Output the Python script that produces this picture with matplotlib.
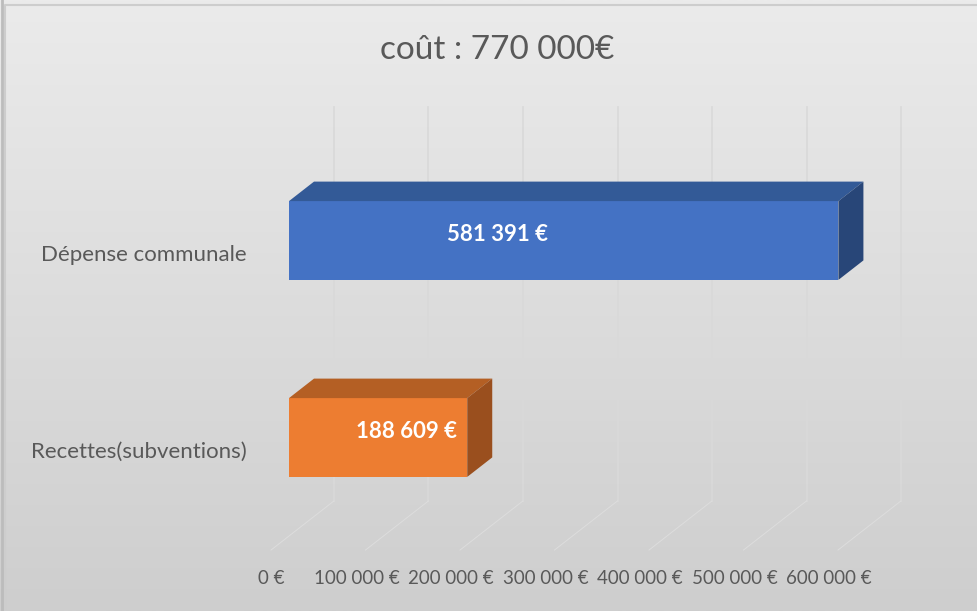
import numpy as np
import matplotlib.pyplot as plt
from matplotlib.patches import Polygon
from matplotlib.colors import LinearSegmentedColormap
from matplotlib.transforms import IdentityTransform

# data
categories = ["Recettes(subventions)", "Dépense communale"]
values = [188609, 581391]
value_labels = ["188 609 €", "581 391 €"]
ticks = [0, 100000, 200000, 300000, 400000, 500000, 600000]
tick_labels = ["0 €", "100 000 €", "200 000 €", "300 000 €",
               "400 000 €", "500 000 €", "600 000 €"]
title = "coût : 770 000€"

# styles
front_colors = ["#ED7D31", "#4472C4"]
top_colors = ["#B45F24", "#335A97"]
side_colors = ["#9A4F1E", "#284678"]
label_x = [124000, 221000]   # where Excel put the data labels
plt.rcParams['font.family'] = ['Lato', 'DejaVu Sans']
txt_color = "#595959"

W, H = 978, 611
fig = plt.figure(figsize=(W / 100, H / 100), dpi=100)

# background gradient + frame
bg = fig.add_axes([0, 0, 1, 1], zorder=-1)
grad = np.linspace(0, 1, 256).reshape(-1, 1)
cmap = LinearSegmentedColormap.from_list("bg", ["#ebebeb", "#cecece"])
bg.imshow(grad, aspect="auto", cmap=cmap, extent=[0, W, H, 0])
bg.plot([5, 5, W], [H, 5, 5], color="#cdcdcd", lw=1.5)
bg.plot([1.5, 1.5], [0, H], color="#bcbcbc", lw=2)
bg.set_xlim(0, W)
bg.set_ylim(H, 0)
bg.axis("off")

# main axes = front plane of the bars
ax = fig.add_axes([289 / W, (H - 536) / H, 567 / W, 394 / H])
ax.set_xlim(0, 600000)
ax.set_ylim(-0.5, 1.5)
ax.axis("off")

DX, DY = 25, 19.5       # pixel shift from bar front to bar back
FLOOR_F, FLOOR_B = -0.72, 1.8


def proj(x, y, d):
    px, py = ax.transData.transform((x, y))
    return px + d * DX, py + d * DY


grid_c = "#d9d9d9"
for t in ticks:
    p0 = proj(t, -0.5, FLOOR_B)
    p1 = proj(t, 1.5, FLOOR_B)
    ax.plot([p0[0], p1[0]], [p0[1], p1[1]], color=grid_c, lw=1.2,
            transform=IdentityTransform(), clip_on=False, zorder=1)
    f0 = proj(t, -0.5, FLOOR_F)
    ax.plot([f0[0], p0[0]], [f0[1], p0[1]], color="#dddddd", lw=0.7,
            transform=IdentityTransform(), clip_on=False, zorder=1)

# bars
ypos = np.arange(len(values))
hh = 0.2
ax.barh(ypos, values, height=2 * hh, color=front_colors, zorder=3,
        edgecolor="none")
for i, v in enumerate(values):
    y = ypos[i]
    top = [proj(0, y + hh, 0), proj(v, y + hh, 0),
           proj(v, y + hh, 1), proj(0, y + hh, 1)]
    side = [proj(v, y - hh, 0), proj(v, y + hh, 0),
            proj(v, y + hh, 1), proj(v, y - hh, 1)]
    ax.add_patch(Polygon(top, closed=True, facecolor=top_colors[i],
                         edgecolor="none", transform=IdentityTransform(),
                         clip_on=False, zorder=3))
    ax.add_patch(Polygon(side, closed=True, facecolor=side_colors[i],
                         edgecolor="none", transform=IdentityTransform(),
                         clip_on=False, zorder=3))
    ax.text(label_x[i], y + 0.03, value_labels[i], color="white",
            fontsize=16, fontweight="bold", ha="center", va="center",
            zorder=4)

# category labels at the front edge of the floor
for i, c in enumerate(categories):
    px, py = proj(0, ypos[i], FLOOR_F)
    ax.text(px - 24, py, c, color=txt_color, fontsize=16,
            ha="right", va="center", transform=IdentityTransform())

# value axis labels
for t, lab in zip(ticks, tick_labels):
    px, py = proj(t, -0.5, FLOOR_F)
    if t > 0:
        px -= 9
    ax.text(px, H - 578, lab, color=txt_color, fontsize=13.5,
            ha="center", va="center", transform=IdentityTransform())

fig.text(497 / W, 1 - 50 / H, title, color=txt_color, fontsize=24,
         ha="center", va="center")

fig.savefig("out.png", dpi=100)
